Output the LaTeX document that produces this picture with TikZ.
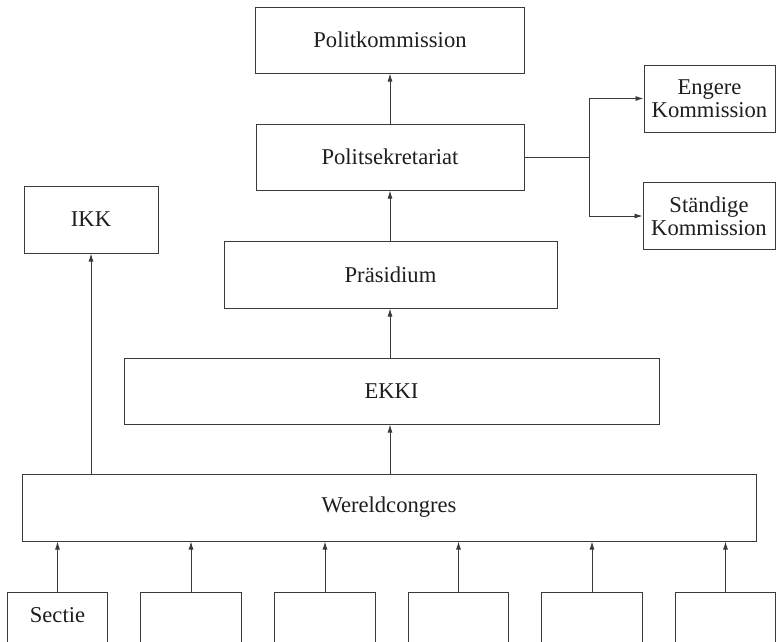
\documentclass[tikz,border=0pt]{standalone}
\usepackage{fontspec}
\setmainfont{Liberation Serif}
\usetikzlibrary{arrows.meta}
\definecolor{ln}{HTML}{3A3A3A}
\definecolor{tx}{HTML}{1E1E1E}
\tikzset{
  box/.style={draw=ln, line width=1pt, rectangle, inner sep=0pt, align=center,
    text=tx, font=\fontsize{22.6}{23}\selectfont},
  plain/.style={inner sep=0pt, text=tx, font=\fontsize{22.6}{23}\selectfont},
  arr/.style={draw=ln, line width=0.9pt, -{Latex[length=8pt,width=5pt]}},
  conn/.style={draw=ln, line width=0.9pt},
}
\begin{document}
\begin{tikzpicture}[x=1pt,y=-1pt]
\useasboundingbox (0,0) rectangle (776,641);
\clip (0,0) rectangle (776,641);
\fill[white] (0,0) rectangle (776,641);
% main column
\node[box, minimum width=269, minimum height=66] (pk) at (390,40) {Politkommission};
\node[box, minimum width=268, minimum height=66] (ps) at (390,157) {Politsekretariat};
\node[box, minimum width=333, minimum height=67] (pr) at (390.5,274.5) {Präsidium};
\node[box, minimum width=535, minimum height=66] (ek) at (391.5,391) {EKKI};
\node[box, minimum width=734, minimum height=67] (wc) at (389,507.5) {Wereldcongres};
\node[box, minimum width=134, minimum height=67] (ikk) at (91,219.5) {IKK};
% right column
\node[box, minimum width=131, minimum height=67] (eng) at (709.5,98.5) {Engere\\Kommission};
\node[box, minimum width=132, minimum height=67] (st) at (709,216) {Ständige\\Kommission};
% bottom sections
\foreach \i/\x in {1/57.5,2/191,3/325,4/458.5,5/592,6/725.5}{
  \node[box, minimum width=100.5, minimum height=80, anchor=north] (b\i) at (\x,592) {};
  \draw[arr] (b\i.north) -- (wc.south -| b\i.north);
}
\node[plain] (sectie) at (57.5,615) {Sectie};
% connectors
\draw[arr] (ps.north) -- (pk.south -| ps.north);
\draw[arr] (pr.north -| ps.south) -- (ps.south);
\draw[arr] (ek.north -| ps.south) -- (pr.south -| ps.south);
\draw[arr] (wc.north -| ps.south) -- (ek.south -| ps.south);
\draw[arr] (wc.north -| ikk.south) -- (ikk.south);
\coordinate (j) at (589,157);
\draw[conn] (ps.east) -- (j);
\draw[arr] (j) |- (eng.west);
\draw[arr] (j) |- (st.west);
\end{tikzpicture}
\end{document}
